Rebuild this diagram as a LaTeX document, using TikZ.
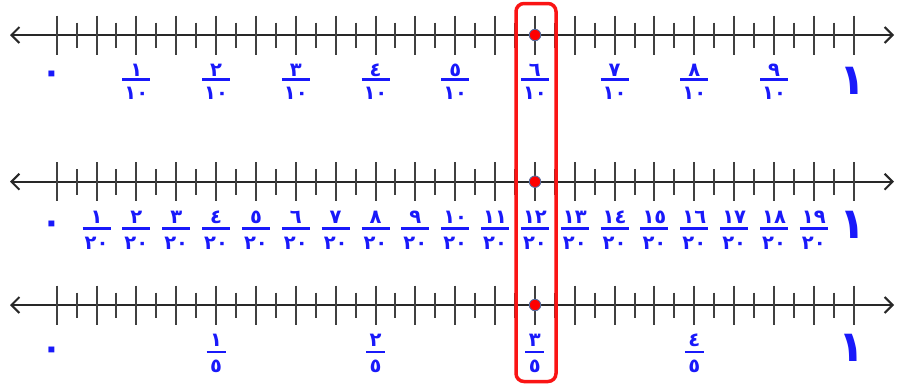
\documentclass[tikz,border=0pt]{standalone}
\usepackage{fontspec}
\newfontfamily\af[Script=Arabic]{DejaVu Sans}
\usetikzlibrary{arrows.meta}
\definecolor{lblue}{RGB}{25,25,250}
\definecolor{axisgray}{RGB}{40,40,40}
\definecolor{boxred}{RGB}{250,20,20}
\definecolor{dotrim}{RGB}{90,110,160}
\begin{document}
\begin{tikzpicture}[x=1pt,y=-1pt,
  axis/.style={draw=axisgray, line width=2pt, {Straight Barb[length=8pt,width=16pt]}-{Straight Barb[length=8pt,width=16pt]}},
  tickline/.style={draw=black!75, line width=2pt},
  num/.style={text=lblue, font=\af\bfseries\fontsize{19.5}{19.5}\selectfont, inner sep=0pt},
  zero/.style={text=lblue, font=\af\bfseries\fontsize{34}{34}\selectfont, inner sep=0pt},
  big/.style={text=lblue, font=\af\bfseries\fontsize{43}{43}\selectfont, inner sep=0pt},
  fbar/.style={draw=lblue, line width=2.2pt},
  reddot/.style={circle, fill=red, draw=dotrim, line width=0.9pt, minimum size=11.5pt, inner sep=0pt},
  frame/.style={draw=boxred, line width=3.5pt, rounded corners=8pt}
]
\useasboundingbox (0,0) rectangle (897,389);
% axes and ticks
\foreach \row/\yy in {1/35, 2/181.7, 3/305} {
  \coordinate (L\row) at (10,\yy);
  \coordinate (R\row) at (894,\yy);
  \draw[axis] (L\row) -- (R\row);
  \foreach \k in {0,...,40} {
    \pgfmathsetmacro\xx{round(56.7+\k*19.925)}
    \pgfmathtruncatemacro\ev{mod(\k,2)}
    \ifnum\ev=0
      \draw[tickline] (\xx,\yy-19.5) -- (\xx,\yy+19.5);
    \else
      \draw[tickline] (\xx,\yy-12.5) -- (\xx,\yy+13);
    \fi
  }
}
% row 1: tenths
\foreach \i/\t in {1/١,2/٢,3/٣,4/٤,5/٥,6/٦,7/٧,8/٨,9/٩} {
  \pgfmathsetmacro\xx{56.7+\i*79.7}
  \node[num] (n1\i) at (\xx,70.5) {\t};
  \draw[fbar] (\xx-14,79.5) -- (\xx+14,79.5);
  \node[num] (d1\i) at (\xx,93.5) {١٠};
}
% row 2: twentieths
\foreach \i/\t in {1/١,2/٢,3/٣,4/٤,5/٥,6/٦,7/٧,8/٨,9/٩,10/١٠,11/١١,12/١٢,13/١٣,14/١٤,15/١٥,16/١٦,17/١٧,18/١٨,19/١٩} {
  \pgfmathsetmacro\xx{56.7+\i*39.85}
  \node[num] (n2\i) at (\xx,217.5) {\t};
  \draw[fbar] (\xx-14,228.5) -- (\xx+14,228.5);
  \node[num] (d2\i) at (\xx,243) {٢٠};
}
% row 3: fifths
\foreach \i/\t in {1/١,2/٢,3/٣,4/٤} {
  \pgfmathsetmacro\xx{56.7+\i*159.4}
  \node[num] (n3\i) at (\xx,340) {\t};
  \draw[fbar] (\xx-9.5,352) -- (\xx+9.5,352);
  \node[num] (d3\i) at (\xx,366) {٥};
}
% zeros and ones
\node[zero] (z1) at (52,77) {٠};
\node[zero] (z2) at (52,227) {٠};
\node[zero] (z3) at (52,353) {٠};
\node[big] (o1) at (853,81) {١};
\node[big] (o2) at (853,225) {١};
\node[big] (o3) at (852,348) {١};
% highlight frame and points
\draw[frame] (516,3.5) rectangle (556,381.5);
\node[reddot] (p1) at (535,35) {};
\node[reddot] (p2) at (535,181.7) {};
\node[reddot] (p3) at (535,305) {};
\end{tikzpicture}
\end{document}
